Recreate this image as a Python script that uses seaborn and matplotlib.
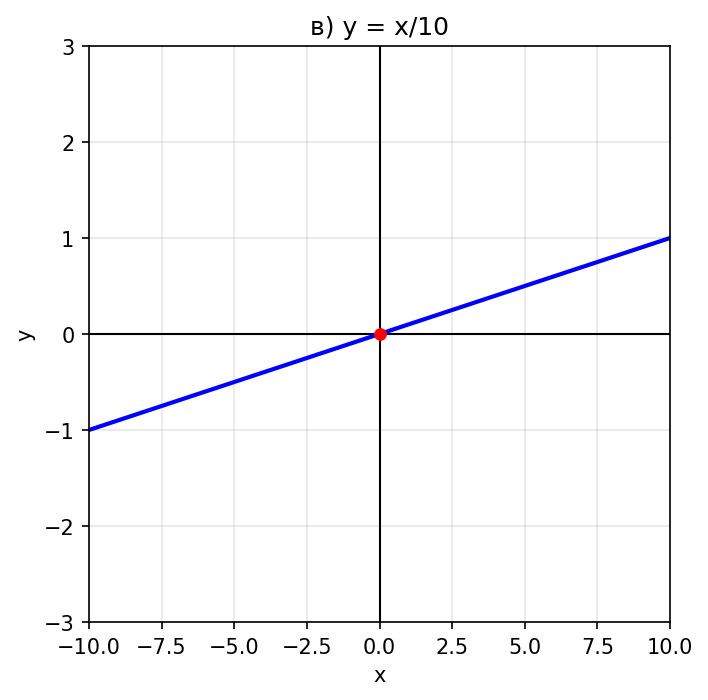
import matplotlib

matplotlib.use("Agg")

import matplotlib.pyplot as plt
import pandas as pd
import seaborn as sns


x_values = [-10.0, -5.0, 0.0, 5.0, 10.0]
y_values = [-1.0, -0.5, 0.0, 0.5, 1.0]
point_x = [0.0]
point_y = [0.0]
x_limits = (-10, 10)
y_limits = (-3, 3)


line_data = pd.DataFrame({"x": x_values, "y": y_values})
point_data = pd.DataFrame({"x": point_x, "y": point_y})

fig = plt.figure(figsize=(708 / 150, 701 / 150), dpi=150)
ax = fig.add_axes([89 / 708, 1 - 623 / 701, (670 - 89) / 708, (623 - 47) / 701])

ax.axhline(0, color="black", linewidth=1)
ax.axvline(0, color="black", linewidth=1)
sns.lineplot(data=line_data, x="x", y="y", color="blue", linewidth=2, ax=ax)
sns.scatterplot(data=point_data, x="x", y="y", color="red", s=32,
                edgecolor="red", zorder=5, ax=ax)

ax.set_xlim(*x_limits)
ax.set_ylim(*y_limits)
ax.grid(True, alpha=0.3)
ax.set_xlabel("x")
ax.set_ylabel("y")
ax.set_title("в) y = x/10")

fig.savefig("out.png", dpi=150)
plt.close(fig)
